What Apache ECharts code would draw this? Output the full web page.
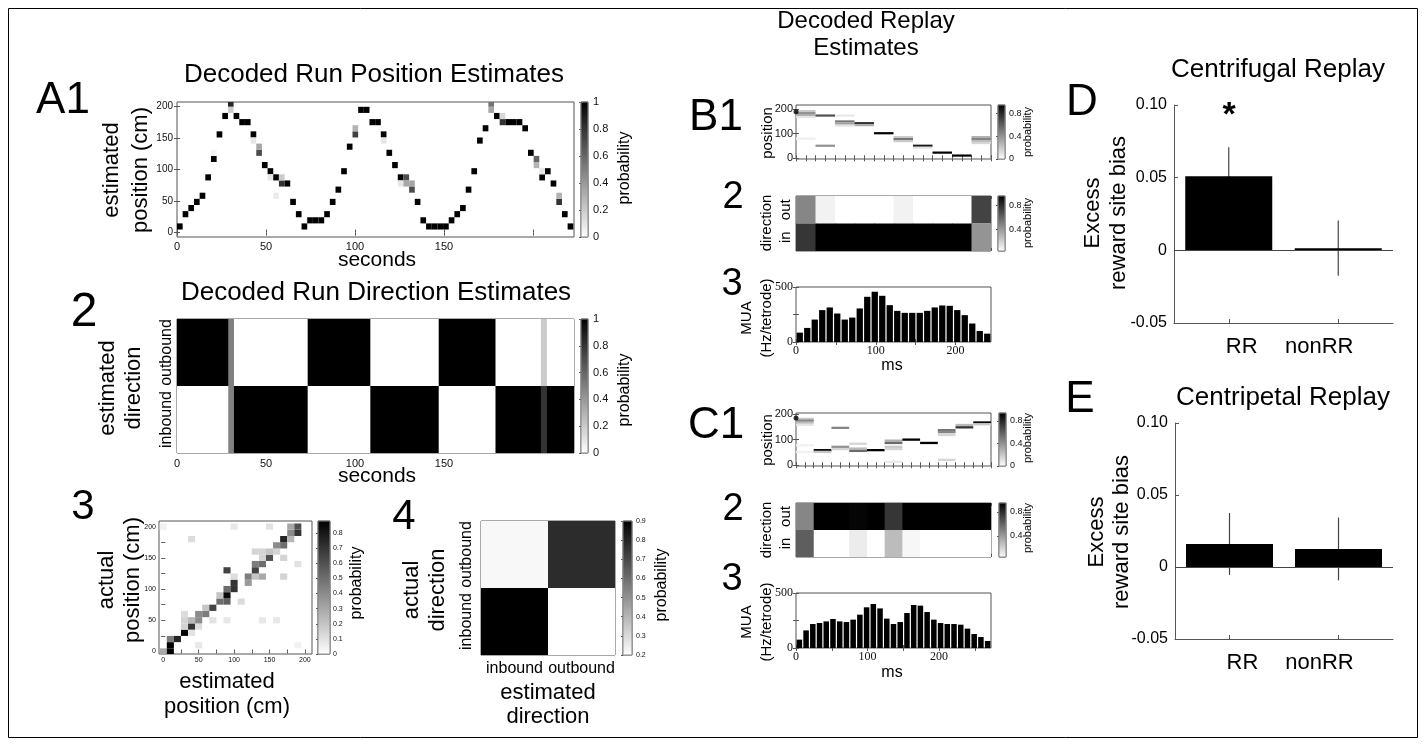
<!DOCTYPE html>
<html>
<head>
<meta charset="utf-8">
<title>Decoded run and replay estimates</title>
<script src="https://cdn.jsdelivr.net/npm/echarts@6/dist/echarts.min.js"></script>
<style>
  html, body { margin: 0; padding: 0; background: #fff; }
  #chart { width: 1426px; height: 746px; }
</style>
</head>
<body>
<div id="chart"></div>
<script>
// ---- A1: decoded run position (time bin index, position cm, probability)
var runBinSec = 3.18;
var a1Bin = [0,1,2,3,4,5,6,6,7,8,9,9,10,11,12,13,13,14,14,15,16,16,17,17,18,18,19,20,21,22,23,24,25,26,27,28,29,30,31,31,32,33,34,35,36,36,37,38,39,39,40,40,41,41,42,43,44,45,46,47,48,49,50,51,52,53,54,55,55,56,57,57,58,59,60,61,62,63,63,64,64,65,66,67,67,68,69];
var a1Pos = [9.75,29.25,39,48.75,58.5,87.75,117,126.75,156,185.25,204.75,195,185.25,175.5,175.5,156,146.25,126.75,136.5,107.25,97.5,87.75,87.75,58.5,78,87.75,78,48.75,29.25,9.75,19.5,19.5,19.5,29.25,48.75,68.25,97.5,136.5,156,165.75,195,195,175.5,175.5,156,146.25,126.75,107.25,87.75,78,87.75,78,78,68.25,48.75,19.5,9.75,9.75,9.75,9.75,19.5,29.25,39,68.25,97.5,146.25,165.75,204.75,195,185.25,175.5,185.25,175.5,175.5,175.5,165.75,126.75,117,107.25,87.75,97.5,97.5,78,48.75,58.5,29.25,9.75];
var a1Prob = [1,1,1,1,1,1,1,0.05,1,1,0.85,0.2,1,1,1,1,0.1,0.7,0.35,1,1,0.1,1,0.08,0.8,0.2,1,1,1,1,1,1,1,1,1,1,1,1,0.75,0.3,1,1,1,1,1,0.1,1,1,1,0.1,0.7,0.35,0.35,0.7,1,1,1,1,1,1,1,1,1,1,1,1,1,0.55,0.35,1,0.8,0.15,1,1,1,1,1,0.6,0.3,1,0.1,1,1,0.8,0.3,1,1];
var posBinCm = 9.75;

// ---- A2: decoded run direction, segments in seconds
var a2Start = [0, 28.8, 32, 73.4, 108.6, 147, 178.9, 204.4, 207.8];
var a2End = [28.8, 32, 73.4, 108.6, 147, 178.9, 204.4, 207.8, 223];
var a2OutProb = [1, 0.5, 0, 1, 0, 1, 0, 0.2, 0];
var a2InProb = [0, 0.5, 1, 0, 1, 0, 1, 0.8, 1];
var dirCats = ['inbound', 'outbound'];

// ---- A3: confusion of position (estimated cm, actual cm, probability)
var a3Est = [0,10,10,10,20,30,40,30,40,50,30,40,50,70,90,140,160,30,50,60,60,70,80,90,110,80,90,90,100,100,120,100,120,130,140,170,90,130,130,140,190,140,150,170,130,140,150,160,160,170,40,170,180,180,190,0,100,150,180,190,50,190];
var a3Act = [0,0,10,20,20,30,30,40,40,40,50,50,50,50,50,50,50,60,60,60,70,70,80,80,80,90,90,100,100,110,110,120,120,120,120,120,130,130,140,140,140,150,150,150,160,160,160,160,170,170,180,180,180,190,190,200,200,200,200,200,10,10];
var a3Prob = [0.3,0.88,0.88,0.45,0.75,0.88,0.1,0.15,0.7,0.12,0.15,0.25,0.4,0.1,0.08,0.08,0.08,0.12,0.4,0.45,0.2,0.65,0.5,0.55,0.12,0.2,0.85,0.5,0.7,0.7,0.35,0.12,0.45,0.2,0.3,0.15,0.65,0.65,0.45,0.5,0.1,0.15,0.6,0.15,0.15,0.15,0.2,0.15,0.4,0.5,0.12,0.75,0.25,0.4,0.7,0.05,0.08,0.1,0.3,0.6,0.08,0.05];

// ---- A4: confusion of direction
var a4Est = ['inbound', 'outbound', 'inbound', 'outbound'];
var a4Act = ['inbound', 'inbound', 'outbound', 'outbound'];
var a4Prob = [0.9, 0.1, 0.22, 0.78];

// ---- B / C: replay events
var muaBinMs = 9.4;
var b1Bin = [0,0,0,0,0,1,1,2,2,2,2,3,3,4,5,5,5,6,6,7,8,9,9,9,9];
var b1Pos = [192,184,176,168,80,174,51,174,150,141,133,143,135,102,86,78,70,51,43,23,11,86,78,70,62];
var b1Prob = [0.2,0.4,0.3,0.1,0.06,0.65,0.4,0.08,0.5,0.35,0.1,0.75,0.3,0.95,0.2,0.5,0.2,0.85,0.1,0.95,0.95,0.3,0.45,0.25,0.15];
var b1Actual = 190;
var b2Out = [0.45, 0.05, 0, 0, 0, 0.05, 0, 0, 0, 0.7];
var b2In = [0.75, 0.95, 1, 1, 1, 0.95, 1, 1, 1, 0.4];
var b3Mua = [85,128,204,290,314,259,204,222,305,411,457,420,335,283,265,265,265,283,314,332,329,290,244,168,100,76];

var c1Bin = [0,0,0,0,0,0,1,1,2,2,2,3,3,3,4,5,5,5,5,5,6,7,8,8,8,8,9,9,10,10];
var c1Pos = [181,174,166,158,78,52,59,52,146,72,63,84,65,56,59,96,87,72,63,13,100,87,137,129,118,21,157,148,167,160];
var c1Prob = [0.2,0.45,0.25,0.1,0.05,0.05,0.9,0.2,0.45,0.4,0.15,0.15,0.25,0.55,0.95,0.3,0.55,0.2,0.15,0.08,0.95,0.95,0.5,0.45,0.15,0.15,0.25,0.75,0.9,0.2];
var c1Actual = 184;
var c2Out = [0.45, 1, 1, 0.93, 1, 0.75, 0.97, 1, 1, 1, 1];
var c2In = [0.6, 0, 0, 0.07, 0, 0.25, 0.03, 0, 0, 0, 0];
var c3Mua = [76,160,218,227,242,264,242,236,258,303,370,400,360,267,218,236,318,391,385,327,258,227,218,218,212,176,127,100,64];

// ---- D / E: excess reward site bias
var repCats = ['RR', 'nonRR'];
var dMean = [0.051, 0.0015];
var dErr = [0.02, 0.019];
var eMean = [0.016, 0.0125];
var eErr = [0.0215, 0.0218];

var SANS = "'Liberation Sans', Arial, Helvetica, sans-serif";
var SERIF = "'Liberation Serif', 'Times New Roman', serif";
var AXC = '#555';

var grids = [], xAxes = [], yAxes = [], series = [], texts = [];
var extraX = [], extraY = [];

function gray(p, lo, hi) {
  var t = Math.max(0, Math.min(1, (p - lo) / (hi - lo)));
  var g = Math.round(255 * (1 - t));
  return 'rgb(' + g + ',' + g + ',' + g + ')';
}

function panel(box, xa, ya) {
  var i = grids.length;
  grids.push({left: box[0], top: box[1], width: box[2], height: box[3], show: true, borderColor: AXC, borderWidth: 1});
  xa.gridIndex = i;
  ya.gridIndex = i;
  xAxes.push(xa);
  yAxes.push(ya);
  return i;
}

// matlab style box: repeat the ticks on the top and right side
function mirror(g) {
  var mx = JSON.parse(JSON.stringify(xAxes[g]));
  var my = JSON.parse(JSON.stringify(yAxes[g]));
  mx.position = 'top';
  my.position = 'right';
  mx.axisLabel = {show: false};
  my.axisLabel = {show: false};
  extraX.push(mx);
  extraY.push(my);
}

function valAx(min, max, o) {
  o = o || {};
  return {
    type: 'value', min: min, max: max, position: o.position,
    axisLine: {show: false},
    splitLine: {show: false},
    axisTick: {show: !!o.ticks, inside: true, length: o.tickLen || 3, lineStyle: {color: AXC}, customValues: o.ticks},
    axisLabel: {show: !!o.labels, customValues: o.labels, fontSize: o.font || 11, fontFamily: o.family || SANS,
      color: '#111', margin: o.margin == null ? 4 : o.margin}
  };
}

function catAx(data, o) {
  o = o || {};
  return {
    type: 'category', data: data,
    axisLine: {show: false},
    axisTick: {show: false},
    splitLine: {show: false},
    axisLabel: {show: o.show !== false, interval: 0, rotate: o.rotate || 0, fontSize: o.font || 16, fontFamily: SANS,
      color: '#000', margin: o.margin == null ? 4 : o.margin}
  };
}

function cellSeries(g, data, w, h, lo, hi) {
  series.push({
    type: 'custom', xAxisIndex: g, yAxisIndex: g, clip: true, silent: true,
    data: data,
    renderItem: function (params, api) {
      var p0 = api.coord([api.value(0) - w / 2, api.value(1) + h / 2]);
      var p1 = api.coord([api.value(0) + w / 2, api.value(1) - h / 2]);
      return {type: 'rect', shape: {x: p0[0], y: p0[1], width: p1[0] - p0[0], height: p1[1] - p0[1]},
        style: {fill: gray(api.value(2), lo, hi)}};
    }
  });
}

// cells on two category axes, data [col, row, p]
function catCellSeries(g, data, lo, hi) {
  series.push({
    type: 'custom', xAxisIndex: g, yAxisIndex: g, clip: true, silent: true,
    data: data,
    renderItem: function (params, api) {
      var c = api.coord([api.value(0), api.value(1)]);
      var s = api.size([1, 1]);
      return {type: 'rect', shape: {x: c[0] - s[0] / 2, y: c[1] - s[1] / 2, width: s[0], height: s[1]},
        style: {fill: gray(api.value(2), lo, hi)}};
    }
  });
}

// rows of a category y axis, data [x0, x1, row, p]
function stripSeries(g, data, lo, hi) {
  series.push({
    type: 'custom', xAxisIndex: g, yAxisIndex: g, clip: true, silent: true,
    encode: {x: [0, 1], y: 2},
    data: data,
    renderItem: function (params, api) {
      var a = api.coord([api.value(0), api.value(2)]);
      var b = api.coord([api.value(1), api.value(2)]);
      var bh = api.size([0, 1])[1];
      return {type: 'rect', shape: {x: a[0], y: a[1] - bh / 2, width: b[0] - a[0] + 1, height: bh},
        style: {fill: gray(api.value(3), lo, hi)}};
    }
  });
}

function muaSeries(g, vals) {
  series.push({
    type: 'custom', xAxisIndex: g, yAxisIndex: g, clip: true, silent: true,
    encode: {x: [0, 1], y: 2},
    data: vals.map(function (v, i) { return [i * muaBinMs, (i + 1) * muaBinMs, v]; }),
    renderItem: function (params, api) {
      var a = api.coord([api.value(0), api.value(2)]);
      var b = api.coord([api.value(1), 0]);
      return {type: 'rect', shape: {x: a[0] + 0.6, y: a[1], width: b[0] - a[0] - 1.2, height: b[1] - a[1]},
        style: {fill: '#000'}};
    }
  });
}

function colorbar(box, lo, hi, labels, font, margin) {
  var g = panel(box, {type: 'value', min: 0, max: 1, show: false},
    valAx(lo, hi, {position: 'right', labels: labels, ticks: labels, font: font, margin: margin, tickLen: 2}));
  series.push({
    type: 'custom', xAxisIndex: g, yAxisIndex: g, silent: true,
    data: [[0, lo]],
    renderItem: function (params, api) {
      var a = api.coord([0, hi]);
      var b = api.coord([1, lo]);
      return {type: 'rect', shape: {x: a[0], y: a[1], width: b[0] - a[0], height: b[1] - a[1]},
        style: {stroke: '#888', lineWidth: 1,
          fill: new echarts.graphic.LinearGradient(0, 0, 0, 1, [{offset: 0, color: '#000'}, {offset: 1, color: '#fff'}])}};
    }
  });
  return g;
}

function label(s, x, y, size, o) {
  o = o || {};
  texts.push({
    type: 'text', x: x, y: y, rotation: o.rot ? Math.PI / 2 : 0, silent: true, z: 10,
    style: {text: s, fontSize: size, fontFamily: o.family || SANS, fontWeight: o.weight || 'normal', fill: '#000',
      align: 'center', verticalAlign: 'middle', lineHeight: o.lh || Math.round(size * 1.2)}
  });
}

function zip3(a, b, c, fa) {
  return a.map(function (v, i) { return [fa ? fa(v) : v, b[i], c[i]]; });
}

function dirRows(starts, ends, outP, inP) {
  var rows = [];
  starts.forEach(function (s, i) {
    rows.push([s, ends[i], 1, outP[i]]);
    rows.push([s, ends[i], 0, inP[i]]);
  });
  return rows;
}

// ---------------- A1
var runMax = 223;
var gA1 = panel([177, 102, 397, 135],
  valAx(0, runMax, {labels: [0, 50, 100, 150], ticks: [0, 50, 100, 150, 200], font: 11, margin: 4}),
  valAx(-7, 207.5, {labels: [0, 50, 100, 150, 200], ticks: [0, 50, 100, 150, 200], font: 10, margin: 4}));
cellSeries(gA1, zip3(a1Bin, a1Pos, a1Prob, function (b) { return (b + 0.5) * runBinSec; }), runBinSec, posBinCm, 0, 1);
mirror(gA1);
colorbar([581, 102, 7, 135], 0, 1, [0, 0.2, 0.4, 0.6, 0.8, 1], 11, 5);

// ---------------- A2
var gA2 = panel([177, 319, 397, 134],
  valAx(0, runMax, {labels: [0, 50, 100, 150], ticks: [0, 50, 100, 150, 200], font: 11, margin: 5}),
  catAx(dirCats, {rotate: 90, font: 16, margin: 2}));
stripSeries(gA2, dirRows(a2Start, a2End, a2OutProb, a2InProb), 0, 1);
mirror(gA2);
colorbar([581, 319, 7, 134], 0, 1, [0, 0.2, 0.4, 0.6, 0.8, 1], 11, 5);

// ---------------- A3
var gA3 = panel([159, 521, 153, 133],
  valAx(-6, 210, {labels: [0, 50, 100, 150, 200], ticks: [0, 25, 50, 75, 100, 125, 150, 175, 200], font: 7, margin: 3, tickLen: 2}),
  valAx(-4, 209, {labels: [0, 50, 100, 150, 200], ticks: [0, 25, 50, 75, 100, 125, 150, 175, 200], font: 7, margin: 3, tickLen: 2}));
cellSeries(gA3, zip3(a3Est, a3Act, a3Prob), 10, 10, 0, 0.88);
mirror(gA3);
colorbar([318, 521, 12, 133], 0, 0.88, [0, 0.1, 0.2, 0.3, 0.4, 0.5, 0.6, 0.7, 0.8], 7, 3);

// ---------------- A4
var gA4 = panel([481, 521, 134, 134], catAx(dirCats, {font: 16, margin: 6}), catAx(dirCats, {rotate: 90, font: 16, margin: 6}));
catCellSeries(gA4, a4Est.map(function (e, i) { return [dirCats.indexOf(e), dirCats.indexOf(a4Act[i]), a4Prob[i]]; }), 0.2, 0.9);
colorbar([623, 521, 9, 134], 0.2, 0.9, [0.2, 0.3, 0.4, 0.5, 0.6, 0.7, 0.8, 0.9], 7, 4);

// ---------------- B / C replay panels
function replay(top1, top2, top3, bin1, pos1, prob1, actual, outP, inP, mua, yMax, cbX) {
  var xMax = mua.length * muaBinMs;
  var cols = outP.length;
  var colMs = xMax / cols;
  var halfTicks = [];
  for (var k = 0; k <= cols * 2; k++) halfTicks.push(k * colMs / 2);

  var g1 = panel([796, top1, 195, top2[0]],
    valAx(0, xMax, {ticks: halfTicks, tickLen: 3}),
    valAx(-3, yMax, {labels: [0, 100, 200], ticks: [0, 100, 200], font: 11, margin: 3}));
  cellSeries(g1, zip3(bin1, pos1, prob1, function (b) { return (b + 0.5) * colMs; }), colMs, 9, 0, 0.94);
  series.push({type: 'scatter', xAxisIndex: g1, yAxisIndex: g1, silent: true, clip: false,
    symbolSize: 5, itemStyle: {color: '#000'}, data: [[0, actual]]});
  mirror(g1);
  colorbar([cbX, top1, 7, top2[0]], 0, 0.94, [0, 0.4, 0.8], 9, 4);

  var g2 = panel([796, top2[1], 195, top2[2]],
    valAx(0, xMax, {ticks: halfTicks, tickLen: 3}),
    catAx(['in', 'out'], {rotate: 90, font: 15, margin: 3}));
  var starts = outP.map(function (v, i) { return i * colMs; });
  var ends = outP.map(function (v, i) { return (i + 1) * colMs; });
  stripSeries(g2, dirRows(starts, ends, outP, inP), 0, 0.95);
  mirror(g2);
  colorbar([cbX, top2[1], 7, top2[2]], 0.05, 0.95, [0.4, 0.8], 9, 4);

  var g3 = panel([796, top3, 195, 55],
    valAx(0, xMax, {labels: [0, 100, 200], ticks: [0, 50, 100, 150, 200, 250], font: 12, family: SERIF, margin: 3}),
    valAx(0, 500, {labels: [0, 500], ticks: [0, 250, 500], font: 12, family: SERIF, margin: 3}));
  muaSeries(g3, mua);
  mirror(g3);
}
replay(105, [54, 196, 55], 287, b1Bin, b1Pos, b1Prob, b1Actual, b2Out, b2In, b3Mua, 217, 998);
replay(413, [53, 503, 54], 593, c1Bin, c1Pos, c1Prob, c1Actual, c2Out, c2In, c3Mua, 204, 999);

// ---------------- D / E
function biasPanel(box, mean, err) {
  var g = panel(box, {
    type: 'category', data: repCats,
    axisLine: {show: true, onZero: false, lineStyle: {color: AXC}},
    axisTick: {show: true, inside: true, alignWithLabel: true, length: 4, lineStyle: {color: AXC}},
    axisLabel: {interval: 0, fontSize: 22, fontFamily: SANS, color: '#000', margin: 13,
      formatter: function (v) { return v === 'RR' ? '{a|RR}' : '{b|nonRR}'; },
      rich: {a: {fontSize: 22, fontFamily: SANS, padding: [0, 0, 0, 26]}, b: {fontSize: 22, fontFamily: SANS, padding: [0, 38, 0, 0]}}}
  }, {
    type: 'value', min: -0.05, max: 0.1, interval: 0.05,
    axisLine: {show: true, lineStyle: {color: AXC}},
    axisTick: {show: true, inside: true, length: 4, lineStyle: {color: AXC}},
    splitLine: {show: false},
    axisLabel: {fontSize: 16, fontFamily: SANS, color: '#000', margin: 7,
      formatter: function (v) { return Math.abs(v) < 1e-9 ? '0' : v.toFixed(2); }}
  });
  grids[g].show = false;
  series.push({
    type: 'custom', xAxisIndex: g, yAxisIndex: g, silent: true, z: 1,
    data: mean.map(function (m, i) { return [i, m, err[i]]; }),
    renderItem: function (params, api) {
      var t = api.coord([api.value(0), api.value(1) + api.value(2)]);
      var b = api.coord([api.value(0), api.value(1) - api.value(2)]);
      return {type: 'line', shape: {x1: t[0], y1: t[1], x2: b[0], y2: b[1]}, style: {stroke: '#444', lineWidth: 1.2}};
    }
  });
  series.push({
    type: 'bar', xAxisIndex: g, yAxisIndex: g, data: mean, barWidth: 87, silent: true, z: 2,
    itemStyle: {color: '#000'},
    markLine: {silent: true, symbol: 'none', label: {show: false}, lineStyle: {color: '#444', type: 'solid', width: 1},
      data: [{yAxis: 0}]}
  });
}
biasPanel([1174, 105, 219, 218], dMean, dErr);
biasPanel([1175, 423, 218, 216], eMean, eErr);

// ---------------- free text
label('A1', 63, 101, 44);
label('Decoded Run Position Estimates', 374, 75, 26);
label('estimated\nposition (cm)', 126, 170, 22, {rot: true, lh: 29});
label('seconds', 377, 260, 21);
label('probability', 625, 168, 16, {rot: true});

label('2', 84, 313, 48);
label('Decoded Run Direction Estimates', 376, 293, 26);
label('estimated\ndirection', 121, 388, 22, {rot: true, lh: 26});
label('seconds', 377, 476, 21);
label('probability', 625, 390, 16, {rot: true});

label('3', 83, 507, 42);
label('actual\nposition (cm)', 120, 580, 22, {rot: true, lh: 26});
label('estimated\nposition (cm)', 227, 694, 22, {lh: 25});
label('probability', 357, 583, 16, {rot: true});

label('4', 404, 517, 42);
label('actual\ndirection', 425, 590, 22, {rot: true, lh: 26});
label('estimated\ndirection', 548, 705, 22, {lh: 24});
label('probability', 662, 585, 16, {rot: true});

label('Decoded Replay\nEstimates', 866, 35, 24, {lh: 27});
label('B1', 716, 118, 44);
label('position', 768, 133, 15, {rot: true});
label('probability', 1028, 132, 11, {rot: true});
label('2', 733, 198, 38);
label('direction', 767, 223, 15, {rot: true});
label('probability', 1028, 223, 11, {rot: true});
label('3', 732, 285, 38);
label('MUA\n(Hz/tetrode)', 757, 318, 15, {rot: true, lh: 20});
label('ms', 892, 366, 16);

label('C1', 716, 426, 44);
label('position', 768, 440, 15, {rot: true});
label('probability', 1028, 438, 11, {rot: true});
label('2', 733, 510, 38);
label('direction', 767, 530, 15, {rot: true});
label('probability', 1028, 528, 11, {rot: true});
label('3', 732, 580, 38);
label('MUA\n(Hz/tetrode)', 757, 622, 15, {rot: true, lh: 20});
label('ms', 892, 673, 16);

label('Centrifugal Replay', 1278, 70, 26);
label('D', 1082, 103, 44);
label('Excess\nreward site bias', 1106, 213, 22, {rot: true, lh: 26});
label('*', 1229, 116, 34, {weight: 'bold'});

label('Centripetal Replay', 1283, 398, 26);
label('E', 1080, 400, 44);
label('Excess\nreward site bias', 1109, 532, 22, {rot: true, lh: 25});

texts.push({type: 'rect', silent: true, z: 0, shape: {x: 8.5, y: 8.5, width: 1409, height: 729},
  style: {fill: 'none', stroke: '#000', lineWidth: 1}});

var chart = echarts.init(document.getElementById('chart'), null, {renderer: 'canvas'});
chart.setOption({
  animation: false,
  backgroundColor: '#fff',
  grid: grids,
  xAxis: xAxes.concat(extraX),
  yAxis: yAxes.concat(extraY),
  series: series,
  graphic: texts
});
</script>
</body>
</html>
